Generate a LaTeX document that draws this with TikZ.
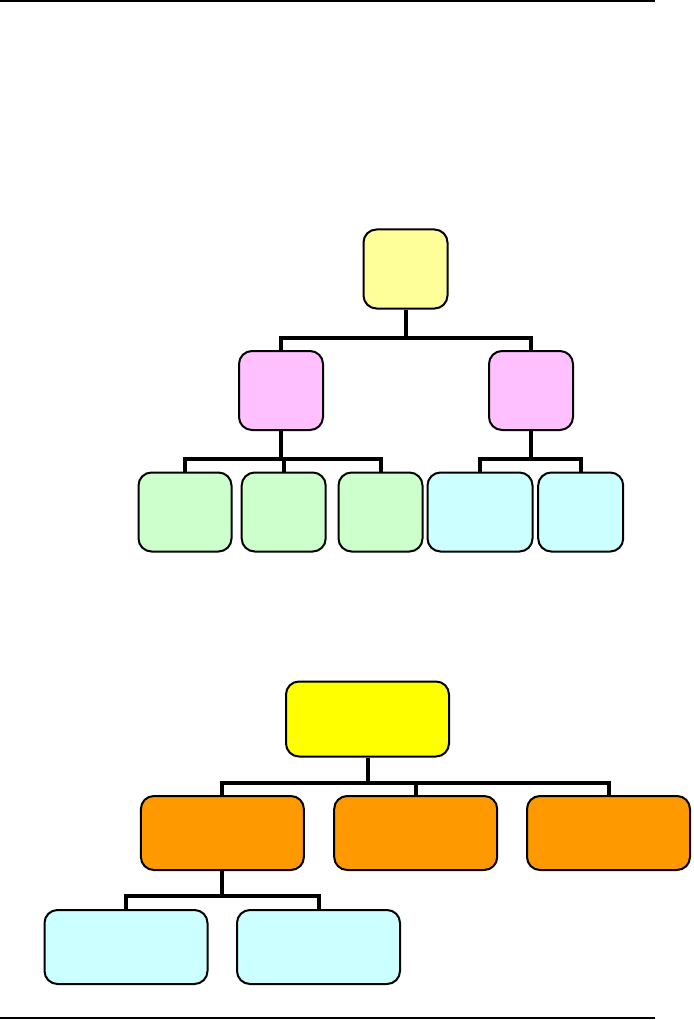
\documentclass[tikz,border=0pt]{standalone}
\newdimen\unitpx \unitpx=0.03cm
\definecolor{paleyellow}{HTML}{FFFF99}
\definecolor{palepink}{HTML}{FFC0FF}
\definecolor{palegreen}{HTML}{CCFFCC}
\definecolor{palecyan}{HTML}{CCFFFF}
\definecolor{brightyellow}{HTML}{FFFF00}
\definecolor{deeporange}{HTML}{FF9900}
\begin{document}
\begin{tikzpicture}[x=0.03cm,y=-0.03cm,
    box/.style={draw,rounded corners=13\unitpx,line width=2\unitpx,inner sep=0pt},
    sq/.style={box,minimum width=84\unitpx,minimum height=79\unitpx},
    wide/.style={box,minimum width=163\unitpx,minimum height=74\unitpx},
    link/.style={line width=4\unitpx}]
    \useasboundingbox (0,0) rectangle (693,1020);
    \draw[line width=2\unitpx] (0,1)--(655,1);
    \draw[line width=2\unitpx] (0,1018)--(655,1018);
    % first tree
    \node[sq,fill=paleyellow] (top) at (405.5,269) {};
    \node[sq,fill=palepink] (midl) at (281,390.5) {};
    \node[sq,fill=palepink] (midr) at (531,390.5) {};
    \node[sq,fill=palegreen,minimum width=93\unitpx] (g1) at (185,512) {};
    \node[sq,fill=palegreen] (g2) at (283.7,512) {};
    \node[sq,fill=palegreen] (g3) at (380.5,512) {};
    \node[sq,fill=palecyan,minimum width=105\unitpx] (c1) at (480,512) {};
    \node[sq,fill=palecyan,minimum width=85\unitpx] (c2) at (580.7,512) {};
    \path (top.south) ++(0,28) coordinate (topj);
    \path (midl.south) ++(0,28) coordinate (midlj);
    \path (midr.south) ++(0,28) coordinate (midrj);
    \draw[link] (top.south)--(topj) -| (midl.north);
    \draw[link] (topj) -| (midr.north);
    \draw[link] (midl.south)--(midlj) -| (g1.north);
    \draw[link] (midlj) -| (g2.north);
    \draw[link] (midlj) -| (g3.north);
    \draw[link] (midr.south)--(midrj) -| (c1.north);
    \draw[link] (midrj) -| (c2.north);
    % second tree
    \node[wide,fill=brightyellow,minimum height=75\unitpx] (head) at (367.5,719) {};
    \node[wide,fill=deeporange] (oa) at (222.4,833) {};
    \node[wide,fill=deeporange] (ob) at (415.7,833) {};
    \node[wide,fill=deeporange] (oc) at (608.5,833) {};
    \node[wide,fill=palecyan] (la) at (126,947) {};
    \node[wide,fill=palecyan] (lb) at (318.5,947) {};
    \path (head.south) ++(0,25) coordinate (headj);
    \path (oa.south) ++(0,25) coordinate (oaj);
    \draw[link] (head.south)--(headj) -| (oa.north);
    \draw[link] (headj) -| (ob.north);
    \draw[link] (headj) -| (oc.north);
    \draw[link] (oa.south)--(oaj) -| (la.north);
    \draw[link] (oaj) -| (lb.north);
\end{tikzpicture}
\end{document}
